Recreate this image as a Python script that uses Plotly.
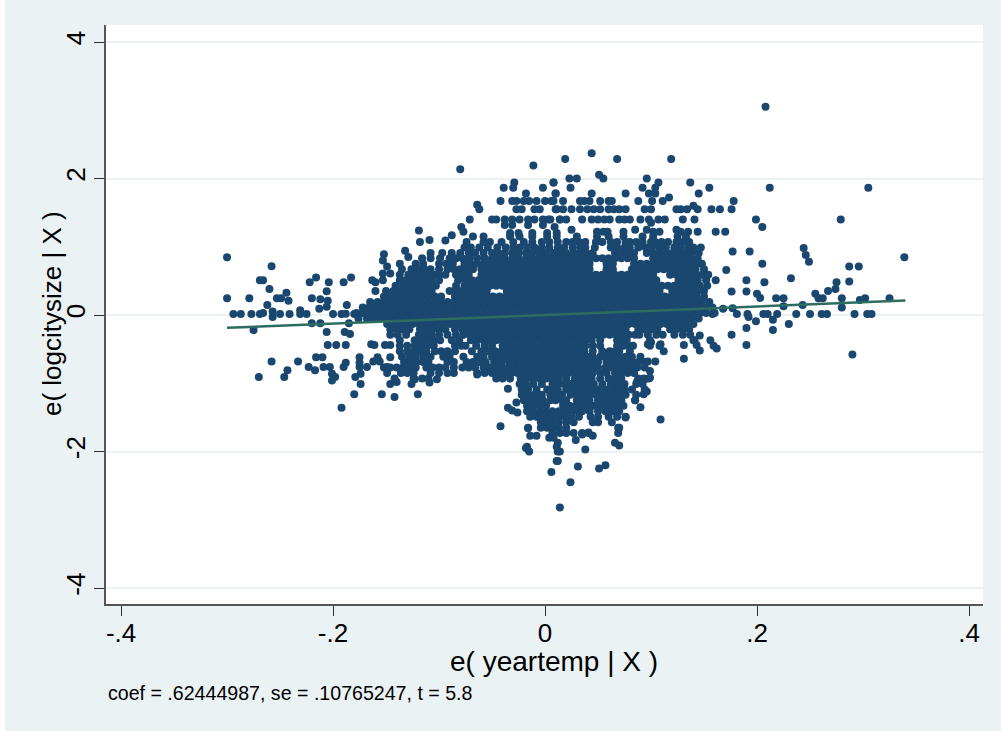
import plotly.graph_objects as go

# e(yeartemp|X) in thousandths, e(logcitysize|X)
sparse_x = [-300,-258,-269,-266,-260,-300,-279,-253,-249,-244,-242,-262,-294,-287,-277,-269,-266,-257,-250,-241,-231,-225,-257,-231,
 -222,-216,-204,-190,-183,-206,-220,-212,-205,-213,-206,-187,-200,-192,-188,-180,-172,-163,-160,-153,-160,-152,-153,-149,-153,-146,-137,-132,-129,
 -119,-118,-109,-94,-88,-80,-11,-64,-62,-71,-79,-77,-50,-46,-39,-29,-30,-42,-18,-2,8,10,
 -31,-27,-20,-15,-8,0,6,-27,-22,-10,-5,11,-38,-31,-24,-16,-10,-2,3,14,-38,-31,-16,-2,-33,-25,-12,2,11,
 208,19,44,68,119,8,23,30,51,55,24,96,107,104,92,137,155,212,305,10,44,76,98,104,145,
 8,17,33,37,42,52,60,63,88,101,111,117,140,178,
 10,17,25,33,40,46,52,60,65,70,76,94,100,124,128,134,144,157,165,176,
 5,14,20,35,44,50,56,61,70,75,80,90,98,100,107,113,130,141,199,279,
 9,25,49,55,59,74,85,96,102,108,124,128,135,144,161,170,205,177,193,244,246,249,205,287,296,339,171,161,190,207,232,275,287,274,267,176,190,200,203,218,225,255,258,262,280,302,297,325,243,225,280,168,177,
 158,191,206,210,219,237,250,261,266,292,304,308,181,
 192,199,215,230,215,190,176,190,290,156,159,162,146,146,141,143,131,131,112,109,100,97,109,90,96,93,85,99,94,87,99,104,97,76,69,66,70,38,57,51,31,24,14,6,14,12,29,12,45,35,41,
 -275,-258,-270,-246,-243,-233,-223,-217,-216,-210,-209,-203,-201,-201,-198,-205,-197,-188,-206,-212,-220,-185,-189,-184,-164,-161,-151,-146,-175,-158,-146,-188,-190,-175,-175,-168,-162,-156,-149,-174,-179,-174,-146,-140,-126,-123,-180,-154,-142,-120,-192,-109,-102,-64,-55,-42,-40,-35,-27,-35,-31,-26,-42,-16,-14,-8,-17,-18,-15,4,8,11,12,11]
sparse_y = [.845,.713,.51,.51,.38,.245,.245,.245,.245,.327,.21,.146,.015,.015,.015,.015,.03,.05,.015,.015,.015,.015,-.03,.07,
 .48,.55,.48,.48,.55,.347,.245,.23,.21,.09,.12,.146,.015,.015,.02,.015,.03,.51,.48,.51,.35,.89,.8,.71,.61,.61,.75,.94,.85,
 1.24,1.07,1.10,1.09,1.17,2.135,2.19,1.615,1.55,1.40,1.29,1.22,1.40,1.40,1.865,1.94,1.865,1.67,1.78,1.865,1.94,1.78,
 1.67,1.67,1.67,1.67,1.67,1.67,1.67,1.55,1.55,1.55,1.55,1.55,1.40,1.40,1.40,1.40,1.40,1.40,1.40,1.40,1.32,1.32,1.32,1.32,1.2,1.2,1.2,1.2,1.2,
 3.05,2.285,2.37,2.285,2.285,1.94,2.0,2.0,2.055,2.0,1.865,2.0,1.94,1.865,1.865,1.94,1.865,1.865,1.865,1.78,1.78,1.78,1.78,1.78,1.78,
 1.67,1.67,1.67,1.67,1.67,1.67,1.67,1.67,1.67,1.67,1.67,1.72,1.6,1.67,
 1.55,1.55,1.55,1.55,1.55,1.55,1.55,1.55,1.55,1.55,1.55,1.55,1.55,1.55,1.55,1.55,1.55,1.55,1.55,1.55,
 1.40,1.40,1.40,1.40,1.40,1.40,1.40,1.40,1.40,1.40,1.40,1.40,1.40,1.35,1.40,1.40,1.40,1.40,1.40,1.40,
 1.29,1.25,1.22,1.22,1.22,1.22,1.25,1.25,1.22,1.22,1.25,1.22,1.22,1.22,1.22,1.22,1.29,.93,.93,.98,.88,.78,.75,.71,.71,.845,.66,.51,.51,.48,.54,.48,.49,.38,.35,.345,.345,.31,.25,.245,.245,.31,.245,.245,.245,.245,.22,.245,.146,.13,.11,.09,.1,
 .015,.015,.015,.015,.015,.015,.015,.015,.015,.015,.015,.015,.015,
 -.03,-.09,-.07,-.13,-.22,-.19,-.29,-.44,-.58,-.37,-.45,-.49,-.52,-.3,-.37,-.44,-.44,-.64,-.53,-.43,-.4,-.43,-1.53,-1.35,-1.12,-1.16,-1.25,-.92,-.94,-.97,-.82,-.68,-.68,-1.5,-1.65,-1.87,-1.91,-1.97,-2.2,-2.25,-2.22,-2.45,-2.82,-2.3,-2.0,-2.14,-1.83,-1.87,-1.77,-1.75,-1.72,
 -.22,-.68,-.91,-.91,-.81,-.68,-.76,-.81,-.62,-.62,-.76,-.76,-.86,-.96,-.91,-.44,-.44,-.44,-.25,-.12,-.12,-.12,-.25,-.28,-.43,-.44,-.44,-.44,-.62,-.62,-.62,-.7,-.76,-.7,-.76,-.76,-.68,-.68,-.76,-.86,-.91,-1.01,-1.01,-.98,-1.01,-.94,-1.16,-1.16,-1.2,-1.16,-1.36,-.99,-.94,-.87,-.81,-.91,-.91,-1.08,-1.28,-1.36,-1.4,-1.43,-1.63,-1.66,-1.77,-1.77,-1.93,-1.95,-2.0,-1.8,-1.8,-1.93,-2.0,-2.14]

band_y = [1.15,1.07,.99,.91,.83,.75,.67,.59,.51,.43,.35,.27,.19,.11,.03,-.05,-.13,-.21,-.29,-.37,-.45,-.53,-.61,-.69,-.77,-.85,-.93,-1.01,-1.09,-1.17,-1.25,-1.33,-1.41,-1.49,-1.57,-1.65,-1.73]
band_x = [
 [-68,-58,-33,-24,-12,2,11,30,49,60,74,92,102,125,133],
 [-74,-58,-52,-41,-30,-20,-12,-3,4,12,20,26,32,38,48,54,62,68,76,80,86,92,100,104,110,116,124,130,136],
 [-76,-70,-62,-54,-45,-37,-30,-24,-17,-10,-3,4,12,18,26,33,38,47,62,68,75,80,88,95,101,108,114,122,128,135,140,147],
 [-108,-97,-88,-80,-72,-66,-58,-50,-44,-38,-31,-25,-18,-12,-5,1,8,14,20,27,33,39,45,66,72,78,84,96,102,108,114,120,126,132,138,145],
 [-116,-108,-99,-90,-84,-78,-71,-64,-57,-50,-44,-38,-31,-25,-18,-12,-6,0,6,12,18,24,30,36,42,48,54,60,66,72,78,84,102,108,114,120,126,132,138,144],
 [-122,-115,-100,-93,-87,-76,-70,-64,-58,-52,-46,-40,-34,-28,-22,-16,-10,-4,2,8,14,20,26,32,38,42,58,64,84,90,96,102,108,114,120,126,132,138,144,148],
 [-135,-126,-120,-114,-108,-100,-92,-86,-80,-74,-68,-60,-54,-48,-42,-36,-30,-24,-18,-12,-6,0,6,12,18,24,30,36,42,58,64,82,88,94,100,106,112,118,124,130,136,142,150],
 [-137,-129,-123,-117,-111,-105,-100,-94,-84,-78,-72,-60,-54,-48,-42,-36,-30,-24,-18,-12,-6,0,6,12,18,24,30,36,42,48,54,60,66,72,78,84,90,96,102,118,124,130,136,142,148,154],
 [-137,-131,-125,-119,-113,-107,-100,-82,-75,-69,-63,-57,-51,-45,-39,-33,-27,-21,-15,-9,-3,3,9,15,21,27,33,39,45,51,57,63,69,75,81,87,93,99,105,126,132,138,144,152],
 [-141,-134,-128,-122,-116,-110,-103,-84,-76,-70,-64,-58,-52,-46,-40,-34,-28,-22,-16,-10,-4,2,8,14,20,26,32,38,44,50,56,62,68,74,80,86,92,98,104,110,116,122,128,134,140,146,153],
 [-150,-143,-137,-131,-125,-119,-113,-107,-90,-85,-79,-73,-67,-61,-55,-36,-30,-24,-18,-12,-6,0,6,12,18,24,30,36,42,48,54,60,66,72,78,84,90,96,102,108,120,126,132,138,144,150],
 [-152,-146,-140,-134,-128,-122,-116,-110,-104,-98,-85,-79,-73,-67,-61,-55,-49,-43,-37,-31,-25,-19,-13,-7,-1,5,11,17,23,29,35,41,47,53,59,65,71,77,83,89,95,101,107,113,119,125,131,137,143,150],
 [-165,-158,-152,-146,-140,-134,-128,-122,-116,-110,-104,-98,-92,-86,-80,-74,-68,-62,-56,-50,-44,-38,-32,-26,-20,-14,-8,-2,4,10,16,22,28,34,40,46,52,58,64,70,76,82,88,94,100,106,112,118,124,130,136,142,148,155],
 [-172,-166,-160,-154,-148,-142,-136,-130,-124,-118,-112,-106,-100,-94,-88,-82,-76,-70,-64,-58,-52,-46,-40,-34,-28,-22,-16,-10,-4,2,8,14,20,26,32,38,44,50,56,62,68,74,80,86,92,98,104,110,116,122,128,134,140,146,152,158],
 [-178,-172,-166,-160,-154,-148,-142,-136,-130,-124,-118,-112,-106,-100,-94,-88,-82,-76,-70,-64,-58,-52,-46,-40,-34,-28,-22,-16,-10,-4,2,8,14,20,26,32,38,44,50,56,62,68,74,80,86,92,98,104,110,116,122,128,134,140,146,152,160],
 [-176,-168,-162,-156,-150,-144,-138,-132,-126,-120,-114,-108,-102,-96,-90,-84,-78,-72,-66,-60,-54,-48,-42,-36,-30,-24,-18,-12,-6,0,6,12,18,24,30,36,42,48,54,60,66,72,78,84,90,96,102,108,114,120,126,132,138,145],
 [-149,-143,-137,-131,-125,-119,-113,-107,-101,-95,-89,-83,-77,-71,-65,-59,-53,-47,-41,-35,-29,-23,-17,-11,-5,1,7,13,19,25,31,37,43,49,55,61,67,73,79,85,91,97,103,109,115,121,127,133,140],
 [-146,-140,-134,-128,-118,-112,-106,-100,-94,-85,-78,-72,-66,-60,-54,-48,-42,-36,-30,-24,-18,-12,-6,0,6,12,18,24,30,36,42,48,54,60,66,72,76,88,94,100,106,118,124,130,136],
 [-146,-139,-131,-119,-113,-107,-100,-92,-84,-77,-71,-65,-59,-53,-47,-41,-35,-29,-23,-17,-11,-5,1,7,13,19,25,31,37,43,49,55,61,67,73,79,85,89,97,105,111,122,130,137],
 [-137,-123,-117,-111,-105,-99,-88,-81,-70,-64,-58,-52,-46,-40,-34,-28,-22,-16,-10,-4,2,8,14,20,26,32,38,44,52,68,73,77,99,140],
 [-137,-130,-123,-117,-111,-105,-85,-79,-75,-65,-57,-50,-40,-34,-28,-22,-16,-10,-4,2,8,14,20,26,32,38,45,52,68,74,79,83,99,108],
 [-137,-130,-124,-118,-112,-104,-98,-92,-85,-69,-60,-53,-47,-41,-35,-29,-23,-17,-11,-5,1,7,13,19,25,31,37,45,54,61,66,70,80],
 [-135,-128,-122,-115,-108,-96,-90,-77,-64,-58,-50,-44,-38,-32,-26,-20,-14,-8,-2,4,10,16,22,28,34,40,45,52,58,64,70,76,82,90],
 [-133,-127,-121,-115,-110,-92,-86,-74,-68,-62,-56,-48,-41,-34,-28,-22,-16,-10,-4,2,8,14,20,26,32,38,44,50,58,64,70,76,82,88,94],
 [-152,-146,-140,-134,-128,-122,-112,-106,-100,-94,-86,-78,-72,-66,-58,-52,-46,-40,-34,-28,-22,-16,-10,-4,2,8,14,20,26,32,38,44,50,57,63,69,75,81,87,94],
 [-149,-136,-130,-124,-108,-100,-92,-86,-64,-57,-50,-44,-38,-32,-26,-20,-14,-8,-2,4,10,16,22,28,34,40,45,52,58,66,72,78,84],
 [-142,-124,-116,-110,-46,-40,-33,-23,-17,-11,-5,1,7,13,20,28,34,38,44,52,60,66,72,88,93,98],
 [-24,-18,-11,-3,7,12,18,24,30,36,42,46,54,62,68,75,86,92],
 [-22,-16,-8,2,6,12,20,26,32,38,45,50,57,64,70,75,82,94],
 [-22,-16,-10,-3,5,11,16,24,30,36,42,48,54,59,64,70,76,86],
 [-20,-14,-8,-2,5,10,16,20,30,36,42,50,55,60,66,72,85],
 [-17,-11,-5,1,17,23,29,35,40,45,50,55,62,68,74],
 [-17,-11,-5,1,7,13,19,25,31,35,42,50,57,64,70],
 [-14,-8,-2,2,7,13,19,25,32,43,50,60,68,76],
 [-4,2,7,13,20,27,45,50,63],
 [-16,-4,2,7,13,20,70],
 [7,14,20,27,35,41,69]]

tick_x = [-.4,-.2,0,.2,.4]
tick_x_text = ["-.4","-.2","0",".2",".4"]
tick_y = [-4,-2,0,2,4]
tick_y_text = ["-4","-2","0","2","4"]
fit_x = [-.3,.34]
fit_y = [-.1873,.2123]

xs = [v/1000 for v in sparse_x]
ys = list(sparse_y)
for yv, row in zip(band_y, band_x):
    xs += [v/1000 for v in row]
    ys += [yv]*len(row)

FONT = "Liberation Sans, Arial, sans-serif"
AXC = "#555555"
PW, PH = 877, 579
fig = go.Figure()
fig.add_trace(go.Scatter(x=xs, y=ys, mode="markers", marker=dict(color="#1a476f", size=8, line=dict(width=0)), showlegend=False))
fig.add_trace(go.Scatter(x=fit_x, y=fit_y, mode="lines", line=dict(color="#2d6d5f", width=2.5), showlegend=False))
fig.update_layout(
    width=1001, height=731, autosize=False,
    margin=dict(l=106, r=18, t=25, b=127),
    paper_bgcolor="#eaf2f3", plot_bgcolor="white",
    font=dict(family=FONT, color="black"),
    xaxis=dict(range=[-.4142,.4132], tickvals=tick_x, ticktext=tick_x_text, showgrid=False, zeroline=False,
               ticks="outside", ticklen=10, tickwidth=1, tickcolor="#333333", showline=True, linecolor=AXC, linewidth=2,
               ticklabelstandoff=-5, tickfont=dict(size=26)),
    yaxis=dict(range=[-4.234,4.249], tickvals=tick_y, ticktext=tick_y_text, showgrid=True, gridcolor="#eaf2f3", gridwidth=2, zeroline=False,
               ticks="outside", ticklen=10, tickwidth=1, tickcolor="#333333", showline=True, linecolor=AXC, linewidth=2,
               tickangle=-90, ticklabelstandoff=-1, tickfont=dict(size=26)),
    annotations=[
        dict(text="coef = .62444987, se = .10765247, t = 5.8", xref="paper", yref="paper",
             x=0, y=-(706-604)/PH, xanchor="left", yanchor="bottom", showarrow=False,
             font=dict(size=19.6, color="black")),
        dict(text="e( yeartemp | X )", xref="paper", yref="paper", x=(553.5-106)/PW, y=-(661-604)/PH,
             xanchor="center", yanchor="middle", showarrow=False, font=dict(size=28, color="black")),
        dict(text="e( logcitysize | X )", xref="paper", yref="paper", x=(52-106)/PW, y=(604-314)/PH, textangle=-90,
             xanchor="center", yanchor="middle", showarrow=False, font=dict(size=26, color="black")),
    ],
    shapes=[dict(type="rect", xref="paper", yref="paper", x0=-106/PW, x1=-101/PW, y0=-127/PH, y1=25/PH+1, fillcolor="white", line_width=0, layer="below")],
)
fig.write_html("out.html", config={"displayModeBar": False}, post_script="document.body.style.margin='0';")
